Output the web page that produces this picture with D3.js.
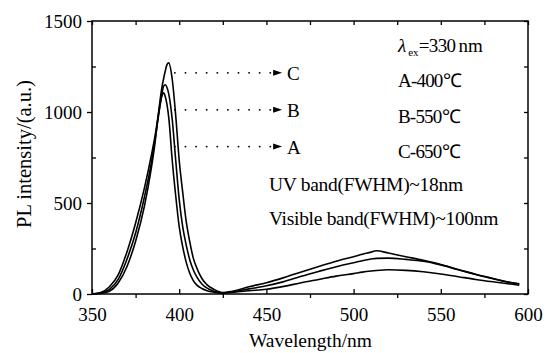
<!DOCTYPE html>
<html>
<head>
<meta charset="utf-8">
<script src="https://cdn.jsdelivr.net/npm/d3@7"></script>
<style>
    body { margin: 0; background: #fff; }
    svg { display: block; font-family: "Liberation Serif", "Times New Roman", serif; }
    .axis path { stroke: none; }
    .axis line { stroke: #000; stroke-width: 1.3; }
    .axis text { font-size: 19px; fill: #000; font-family: "Liberation Serif", serif; }
</style>
</head>
<body>
<div id="graph"></div>
<script>
"use strict";
// wavelength grid (nm), shared by the three spectra
const wavelength = [350, 355, 360, 365, 370, 375, 380, 384, 386, 388, 390, 391, 392, 393, 394, 396, 398,
    400, 402, 404, 406, 408, 410, 413, 416, 420, 425, 430, 440, 450, 460, 470, 480, 490, 500, 505, 510,
    513, 520, 530, 540, 550, 560, 570, 580, 590, 595];
// PL intensity (a.u.)
const seriesA = [0, 8, 40, 105, 230, 390, 580, 760, 860, 980, 1085, 1105, 1085, 1040, 970, 735, 540,
    370, 260, 175, 115, 75, 50, 30, 18, 10, 5, 9, 18, 26, 42, 62, 80, 98, 112, 120, 126,
    129, 133, 130, 122, 110, 95, 80, 67, 55, 48];
const seriesB = [0, 5, 25, 80, 190, 335, 530, 720, 840, 970, 1095, 1140, 1150, 1135, 1100, 960, 735,
    520, 370, 270, 190, 135, 95, 55, 32, 15, 6, 11, 28, 45, 68, 97, 124, 150, 172, 183, 192,
    196, 197, 190, 180, 160, 135, 108, 85, 63, 55];
const seriesC = [0, 3, 15, 60, 150, 290, 480, 690, 820, 985, 1130, 1180, 1225, 1260, 1270, 1180, 980,
    735, 560, 400, 290, 200, 145, 85, 50, 25, 8, 14, 40, 62, 90, 121, 151, 180, 205, 218, 230,
    238, 225, 205, 185, 162, 133, 107, 84, 63, 56];
const series = [seriesA, seriesB, seriesC];

// arrow annotations: label, intensity level, start / end wavelength
const arrowLabels = ["C", "B", "A"];
const arrowLevels = [1215, 1012, 810];
const arrowFrom = 397.5;
const arrowTo = 459;

const xTicks = [350, 400, 450, 500, 550, 600];
const xMinor = [375, 425, 475, 525, 575];
const yTicks = [0, 500, 1000, 1500];
const yMinor = [250, 750, 1250];

const notes = ["A-400℃", "B-550℃", "C-650℃"];
const bandNotes = ["UV band(FWHM)~18nm", "Visible band(FWHM)~100nm"];

(function() {
    const W = 553, H = 353;
    const plot = { left: 92, right: 528, top: 21, bottom: 294 };

    const svg = d3.select("#graph").append("svg")
        .attr("width", W).attr("height", H);
    svg.append("rect").attr("width", W).attr("height", H).attr("fill", "#fff");

    const x = d3.scaleLinear().domain([350, 600]).range([plot.left, plot.right]);
    const y = d3.scaleLinear().domain([0, 1500]).range([plot.bottom, plot.top]);

    // axes
    svg.append("g").attr("class", "axis")
        .attr("transform", "translate(0," + plot.bottom + ")")
        .call(d3.axisBottom(x).tickValues(xTicks).tickSize(-5).tickPadding(14).tickFormat(d3.format("d")));
    svg.append("g").attr("class", "axis")
        .attr("transform", "translate(0," + plot.bottom + ")")
        .call(d3.axisBottom(x).tickValues(xMinor).tickSize(4).tickFormat(""));
    svg.append("g").attr("class", "axis")
        .attr("transform", "translate(0," + plot.top + ")")
        .call(d3.axisTop(x).tickValues(xTicks.concat(xMinor)).tickSize(-4).tickFormat(""));

    svg.append("g").attr("class", "axis")
        .attr("transform", "translate(" + plot.left + ",0)")
        .call(d3.axisLeft(y).tickValues(yTicks).tickSize(5).tickPadding(5).tickFormat(d3.format("d")));
    svg.append("g").attr("class", "axis")
        .attr("transform", "translate(" + plot.left + ",0)")
        .call(d3.axisLeft(y).tickValues(yMinor).tickSize(-4).tickFormat(""));
    svg.append("g").attr("class", "axis")
        .attr("transform", "translate(" + plot.right + ",0)")
        .call(d3.axisRight(y).tickValues(yTicks.concat(yMinor)).tickSize(-4).tickFormat(""));

    // frame
    svg.append("rect")
        .attr("x", plot.left).attr("y", plot.top)
        .attr("width", plot.right - plot.left).attr("height", plot.bottom - plot.top)
        .attr("fill", "none").attr("stroke", "#000").attr("stroke-width", 1.5);

    // spectra
    const line = d3.line()
        .x((d, i) => x(wavelength[i]))
        .y(d => y(d))
        .curve(d3.curveMonotoneX);
    svg.selectAll("path.spec")
        .data(series)
        .enter()
        .append("path")
            .attr("class", "spec")
            .attr("d", line)
            .attr("fill", "none")
            .attr("stroke", "#000")
            .attr("stroke-width", 1.6);

    // dotted arrows
    arrowLevels.forEach((v, i) => {
        const yy = y(v);
        svg.append("line")
            .attr("x1", x(arrowFrom)).attr("x2", x(arrowTo) - 8)
            .attr("y1", yy).attr("y2", yy)
            .attr("stroke", "#000").attr("stroke-width", 1.8)
            .attr("stroke-linecap", "round")
            .attr("stroke-dasharray", "0.1 10.5");
        const tip = x(arrowTo);
        svg.append("path")
            .attr("d", "M" + tip + "," + yy + "L" + (tip - 9) + "," + (yy - 3) + "L" + (tip - 9) + "," + (yy + 3) + "Z")
            .attr("fill", "#000");
        svg.append("text")
            .attr("x", tip + 5).attr("y", yy + 7)
            .attr("font-size", 19)
            .text(arrowLabels[i]);
    });

    // legend notes
    const lam = svg.append("text").attr("x", 398).attr("y", 52).attr("font-size", 19);
    lam.append("tspan").attr("font-style", "italic").text("λ");
    lam.append("tspan").attr("font-size", 11).attr("dx", 2).attr("dy", 4).text("ex");
    lam.append("tspan").attr("dy", -4).attr("letter-spacing", -0.6).text("=330");
    lam.append("tspan").attr("dx", 3).text("nm");

    notes.forEach((t, i) => {
        svg.append("text")
            .attr("x", 398).attr("y", 87 + i * 35.5)
            .attr("font-size", 19).attr("letter-spacing", -0.8)
            .text(t);
    });
    bandNotes.forEach((t, i) => {
        svg.append("text")
            .attr("x", 269).attr("y", 191 + i * 34)
            .attr("font-size", 19.5).attr("letter-spacing", -0.3)
            .text(t);
    });

    // axis titles
    svg.append("text")
        .attr("x", (plot.left + plot.right) / 2 + 0.5).attr("y", 347)
        .attr("text-anchor", "middle").attr("font-size", 19.5)
        .text("Wavelength/nm");
    svg.append("text")
        .attr("transform", "translate(31,154) rotate(-90)")
        .attr("text-anchor", "middle").attr("font-size", 20.5)
        .text("PL intensity/(a.u.)");
})();
</script>
</body>
</html>
